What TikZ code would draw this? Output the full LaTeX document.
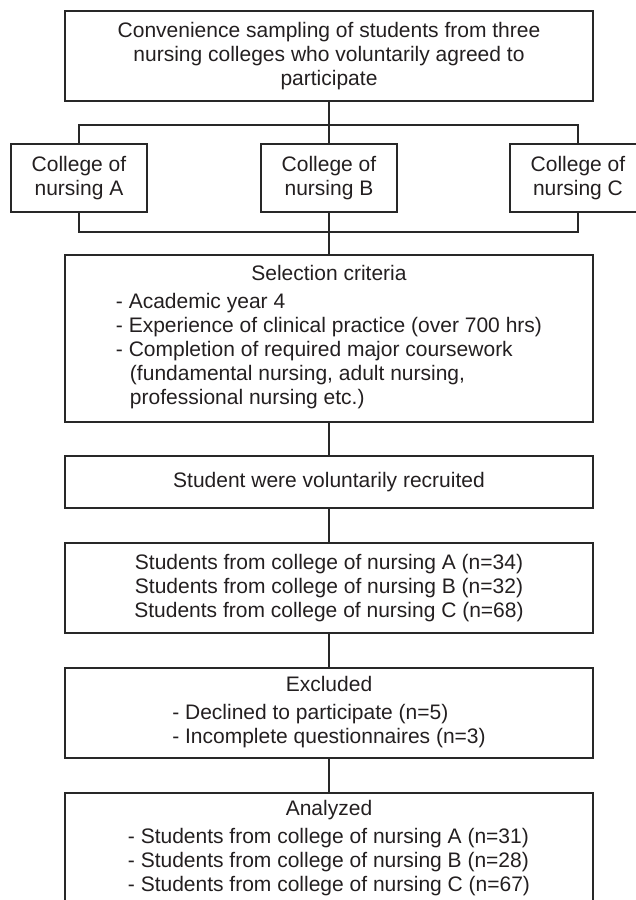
\documentclass[tikz,border=0pt]{standalone}
\usepackage{fontspec}
\setmainfont{Liberation Sans}
\usepackage{xcolor}
\usepackage{tikz}
\usetikzlibrary{positioning}
\definecolor{FlowInk}{RGB}{35, 31, 32}
\definecolor{FlowLine}{RGB}{40, 40, 40}

\begin{document}
\begin{tikzpicture}[
    x=1pt, y=1pt,
    node distance=35pt and 114pt,
    box/.style={
        rectangle, draw=FlowLine, line width=1.2pt, text=FlowInk,
        inner sep=0pt, outer sep=0pt, minimum width=528pt, align=center,
        font=\fontsize{21}{24}\selectfont
    },
    college/.style={box, minimum width=136pt, minimum height=68pt},
    link/.style={draw=FlowLine, line width=1.2pt}
]

\clip (0,0) rectangle (636,-900);

\node[box, minimum height=90pt] (sampling) at (329,-56)
    {Convenience sampling of students from three\\
     nursing colleges who voluntarily agreed to\\
     participate};

\node[college, below=43pt of sampling] (collB) {College of\\nursing B};
\node[college, left=of collB]  (collA) {College of\\nursing A};
\node[college, right=113pt of collB] (collC) {College of\\nursing C};

\node[box, minimum height=167pt, below=43pt of collB] (criteria)
    {Selection criteria\\[4pt]
     \begin{tabular}[t]{@{}l@{}}
     - Academic year 4\\
     - Experience of clinical practice (over 700 hrs)\\
     - Completion of required major coursework\\
     \hspace*{14pt}(fundamental nursing, adult nursing,\\
     \hspace*{14pt}professional nursing etc.)
     \end{tabular}};

\node[box, minimum height=52pt, below=34pt of criteria] (recruit)
    {Student were voluntarily recruited};

\node[box, minimum height=90pt, below=of recruit] (cohort)
    {Students from college of nursing A (n=34)\\
     Students from college of nursing B (n=32)\\
     Students from college of nursing C (n=68)};

\node[box, minimum height=90pt, below=of cohort] (excluded)
    {Excluded\\[4pt]
     \begin{tabular}[t]{@{}l@{}}
     - Declined to participate (n=5)\\
     - Incomplete questionnaires (n=3)
     \end{tabular}};

\node[box, minimum height=113pt, below=of excluded] (analyzed)
    {Analyzed\\[4pt]
     \begin{tabular}[t]{@{}l@{}}
     - Students from college of nursing A (n=31)\\
     - Students from college of nursing B (n=28)\\
     - Students from college of nursing C (n=67)
     \end{tabular}};

\draw[link] (sampling) -- (collB);
\draw[link] (collA.north) -- ++(0,19) -| (collC.north);
\draw[link] (collA.south) -- ++(0,-20) -| (collC.south);
\draw[link] (collB) -- (criteria);
\draw[link] (criteria) -- (recruit);
\draw[link] (recruit) -- (cohort);
\draw[link] (cohort) -- (excluded);
\draw[link] (excluded) -- (analyzed);

\end{tikzpicture}
\end{document}
